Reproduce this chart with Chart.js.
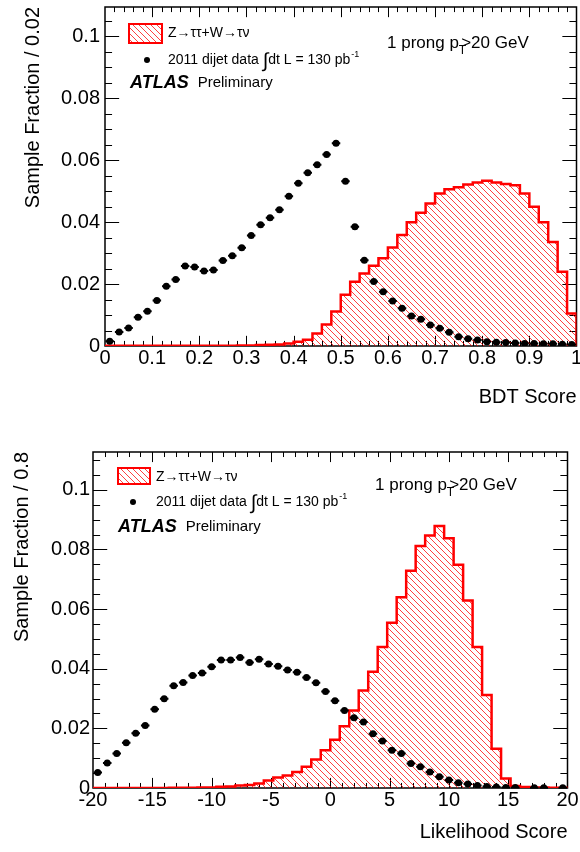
<!DOCTYPE html>
<html>
<head>
<meta charset="utf-8">
<script src="https://cdn.jsdelivr.net/npm/chart.js@4.4.1/dist/chart.umd.min.js"></script>
<style>
  html, body { margin: 0; padding: 0; background: #fff; overflow: hidden; }
  #wrap { position: relative; width: 580px; height: 852px; }
  canvas { position: absolute; left: 0; }
</style>
</head>
<body>
<div id="wrap">
  <canvas id="bdt" width="580" height="426" style="top:0"></canvas>
  <canvas id="llh" width="580" height="426" style="top:426px"></canvas>
</div>
<script>
// BDT score: 50 bins of 0.02 between 0 and 1
var bdtLo = 0, bdtBin = 0.02;
var bdtSignal = [
  0.0001, 0.0001, 0.0001, 0.0001, 0.0001, 0.0001, 0.0001, 0.0001, 0.0001, 0.0001,
  0.0001, 0.0001, 0.0001, 0.0001, 0.0002, 0.0002, 0.0003, 0.0004, 0.0005, 0.0008,
  0.0014, 0.0020, 0.0040, 0.0069, 0.0111, 0.0165, 0.0207, 0.0234, 0.0259, 0.0283,
  0.0318, 0.0358, 0.0399, 0.0430, 0.0460, 0.0492, 0.0506, 0.0512, 0.0521, 0.0528,
  0.0533, 0.0528, 0.0523, 0.0519, 0.0492, 0.0449, 0.0399, 0.0336, 0.0240, 0.0105
];
var bdtData = [
  0.0015, 0.0045, 0.0058, 0.0093, 0.0112, 0.0147, 0.0193, 0.0215, 0.0258, 0.0255,
  0.0242, 0.0245, 0.0276, 0.0291, 0.0317, 0.0357, 0.0391, 0.0414, 0.0440, 0.0483,
  0.0525, 0.0559, 0.0585, 0.0618, 0.0654, 0.0532, 0.0385, 0.0277, 0.0208, 0.0175,
  0.0145, 0.0122, 0.0097, 0.0086, 0.0068, 0.0057, 0.0044, 0.0030, 0.0023, 0.0019,
  0.0014, 0.0012, 0.0011, 0.0010, 0.0008, 0.0008, 0.0007, 0.0007, 0.0006, 0.0005
];

// Likelihood score: 50 bins of 0.8 between -20 and 20
var llhLo = -20, llhBin = 0.8;
var llhSignal = [
  0.0000, 0.0000, 0.0000, 0.0000, 0.0000, 0.0000, 0.0000, 0.0000, 0.0001, 0.0001,
  0.0001, 0.0002, 0.0002, 0.0004, 0.0005, 0.0008, 0.0010, 0.0015, 0.0025, 0.0035,
  0.0042, 0.0054, 0.0071, 0.0096, 0.0127, 0.0162, 0.0207, 0.0260, 0.0327, 0.0390,
  0.0473, 0.0554, 0.0640, 0.0729, 0.0812, 0.0847, 0.0879, 0.0838, 0.0749, 0.0629,
  0.0473, 0.0312, 0.0132, 0.0032, 0.0007, 0.0003, 0.0002, 0.0002, 0.0001, 0.0001
];
var llhData = [
  0.0052, 0.0084, 0.0116, 0.0152, 0.0184, 0.0210, 0.0264, 0.0299, 0.0343, 0.0354,
  0.0377, 0.0386, 0.0407, 0.0429, 0.0429, 0.0438, 0.0421, 0.0432, 0.0416, 0.0408,
  0.0396, 0.0388, 0.0371, 0.0353, 0.0324, 0.0293, 0.0260, 0.0236, 0.0221, 0.0182,
  0.0158, 0.0127, 0.0116, 0.0082, 0.0071, 0.0054, 0.0038, 0.0027, 0.0018, 0.0013,
  0.0008, 0.0005, 0.0003, 0.0002, 0.0002, null, 0.0001, 0.0001, null, 0.0001
];

var FONT = "'Liberation Sans', Arial, Helvetica, sans-serif";
Chart.defaults.font.family = FONT;
Chart.defaults.color = '#000';

// histogram outline: one point per bin edge, closed down to zero at both ends
function stepPoints(lo, bin, vals) {
  var pts = [{x: lo, y: 0}];
  for (var i = 0; i < vals.length; i++) {
    pts.push({x: lo + i * bin, y: vals[i]});
  }
  pts.push({x: lo + vals.length * bin, y: vals[vals.length - 1]});
  pts.push({x: lo + vals.length * bin, y: 0});
  return pts;
}

function centerPoints(lo, bin, vals) {
  return vals.map(function (v, i) {
    return {x: lo + (i + 0.5) * bin, y: v};
  });
}

function hatch(ctx) {
  var c = document.createElement('canvas');
  c.width = 6; c.height = 6;
  var g = c.getContext('2d');
  g.strokeStyle = 'rgba(255,0,0,0.75)';
  g.lineWidth = 1;
  g.beginPath();
  g.moveTo(0, 0); g.lineTo(6, 6);
  g.moveTo(-1, 5); g.lineTo(1, 7);
  g.moveTo(5, -1); g.lineTo(7, 1);
  g.stroke();
  return ctx.createPattern(c, 'repeat');
}

function fmt(v) {
  return String(parseFloat(Number(v).toFixed(3)));
}

// frame with inward ticks on all four sides
var rootFrame = {
  id: 'rootFrame',
  beforeDatasetsDraw: function (chart, args, o) {
    var a = chart.chartArea, ctx = chart.ctx;
    var xs = chart.scales.x, ys = chart.scales.y;
    var xLen = 0.03 * (a.bottom - a.top), yLen = 0.03 * (a.right - a.left);
    var i, n, v, p, len;
    ctx.save();
    ctx.strokeStyle = '#000';
    ctx.lineWidth = 1;
    ctx.beginPath();
    n = Math.round((xs.max - xs.min) / o.xMinor);
    for (i = 1; i < n; i++) {
      v = xs.min + i * o.xMinor;
      p = Math.round(xs.getPixelForValue(v)) + 0.5;
      len = i % o.xPer === 0 ? xLen : xLen / 2;
      ctx.moveTo(p, a.bottom); ctx.lineTo(p, a.bottom - len);
      ctx.moveTo(p, a.top); ctx.lineTo(p, a.top + len);
    }
    n = Math.floor((ys.max - ys.min) / o.yMinor + 1e-6);
    for (i = 1; i <= n; i++) {
      v = ys.min + i * o.yMinor;
      p = Math.round(ys.getPixelForValue(v)) + 0.5;
      len = i % o.yPer === 0 ? yLen : yLen / 2;
      ctx.moveTo(a.left, p); ctx.lineTo(a.left + len, p);
      ctx.moveTo(a.right, p); ctx.lineTo(a.right - len, p);
    }
    ctx.stroke();
    ctx.lineWidth = 1.5;
    ctx.strokeRect(a.left, a.top, a.right - a.left, a.bottom - a.top);
    ctx.restore();
  }
};

// horizontal bars through the data points
var errorBars = {
  id: 'errorBars',
  afterDatasetsDraw: function (chart) {
    var xs = chart.scales.x, ys = chart.scales.y, ctx = chart.ctx;
    chart.data.datasets.forEach(function (ds) {
      if (!ds.errX) return;
      ctx.save();
      ctx.strokeStyle = '#000';
      ctx.lineWidth = 2;
      ctx.beginPath();
      ds.data.forEach(function (p) {
        if (p.y === null) return;
        var py = ys.getPixelForValue(p.y);
        ctx.moveTo(xs.getPixelForValue(p.x - ds.errX), py);
        ctx.lineTo(xs.getPixelForValue(p.x + ds.errX), py);
      });
      ctx.stroke();
      ctx.restore();
    });
  }
};

function textRun(ctx, x, y, parts) {
  parts.forEach(function (p) {
    ctx.font = p.font;
    ctx.fillText(p.t, x + (p.dx || 0), y + (p.dy || 0));
    x += ctx.measureText(p.t).width + (p.dx || 0) + (p.after || 0);
  });
}

// legend, ATLAS label and selection text
var atlasText = {
  id: 'atlasText',
  afterDraw: function (chart, args, o) {
    var ctx = chart.ctx, b = o.box;
    ctx.save();
    ctx.fillStyle = chart.data.datasets[1].backgroundColor;
    ctx.fillRect(b[0], b[1], b[2], b[3]);
    ctx.strokeStyle = '#ff0000';
    ctx.lineWidth = 2;
    ctx.strokeRect(b[0], b[1], b[2], b[3]);

    ctx.fillStyle = '#000';
    ctx.textBaseline = 'middle';
    ctx.textAlign = 'left';
    textRun(ctx, o.sig[0], o.sig[1], [
      {t: 'Z\u2192\u03c4\u03c4+W\u2192\u03c4\u03bd', font: '14px ' + FONT}
    ]);

    ctx.beginPath();
    ctx.arc(o.dot[0], o.dot[1], 3, 0, Math.PI * 2);
    ctx.fill();
    textRun(ctx, o.dat[0], o.dat[1], [
      {t: '2011 dijet data ', font: '14px ' + FONT},
      {t: '\u222b', font: '20px ' + FONT, dy: 1, after: 0},
      {t: 'dt L = 130 pb', font: '14px ' + FONT},
      {t: '-1', font: '9px ' + FONT, dy: -5, dx: 1}
    ]);

    textRun(ctx, o.atlas[0], o.atlas[1], [
      {t: 'ATLAS', font: 'italic bold 18px ' + FONT, after: 9},
      {t: 'Preliminary', font: '15px ' + FONT}
    ]);

    textRun(ctx, o.cut[0], o.cut[1], [
      {t: '1 prong p', font: '17px ' + FONT},
      {t: 'T', font: '12px ' + FONT, dy: 8, after: -5},
      {t: '>20 GeV', font: '17px ' + FONT}
    ]);
    ctx.restore();
  }
};

function makeChart(id, c) {
  var ctx = document.getElementById(id).getContext('2d');
  return new Chart(ctx, {
    type: 'line',
    data: {
      datasets: [{
        label: 'data',
        data: centerPoints(c.lo, c.bin, c.data),
        showLine: false,
        pointRadius: 3.5,
        pointHoverRadius: 3.5,
        pointBackgroundColor: '#000',
        pointBorderColor: '#000',
        pointBorderWidth: 0,
        borderColor: '#000',
        errX: c.bin * 0.45,
        order: 0
      }, {
        label: 'signal',
        data: stepPoints(c.lo, c.bin, c.signal),
        stepped: true,
        borderColor: '#ff0000',
        borderWidth: 2.5,
        backgroundColor: hatch(ctx),
        fill: 'origin',
        pointRadius: 0,
        pointHoverRadius: 0,
        order: 1
      }]
    },
    options: {
      responsive: false,
      animation: false,
      events: [],
      layout: {padding: c.padding},
      plugins: {
        legend: {display: false},
        tooltip: {enabled: false},
        rootFrame: c.frame,
        atlasText: c.text
      },
      scales: {
        x: {
          type: 'linear',
          min: c.lo,
          max: c.lo + c.bin * c.signal.length,
          afterFit: function (s) { s.height = c.xHeight; s.paddingLeft = 0; s.paddingRight = 0; },
          grid: {display: false, drawTicks: false},
          border: {display: false},
          ticks: {stepSize: c.xStep, padding: 0, font: {size: 20}, maxRotation: 0, autoSkip: false, callback: fmt},
          title: {display: true, text: c.xTitle, align: 'end', font: {size: 20}, padding: {top: 0, bottom: c.xTitlePad}}
        },
        y: {
          type: 'linear',
          min: 0,
          max: c.yMax,
          afterFit: function (s) { s.width = c.yWidth; s.paddingTop = 0; s.paddingBottom = 0; },
          grid: {display: false, drawTicks: false},
          border: {display: false},
          ticks: {stepSize: 0.02, padding: c.yTickPad, font: {size: 20}, includeBounds: false, callback: fmt},
          title: {display: true, text: c.yTitle, align: 'end', font: {size: 20}, padding: {top: c.yTitlePad, bottom: 0}}
        }
      }
    },
    plugins: [rootFrame, errorBars, atlasText]
  });
}

makeChart('bdt', {
  lo: bdtLo, bin: bdtBin, signal: bdtSignal, data: bdtData,
  padding: {left: 0, right: 3, top: 7, bottom: 0},
  xHeight: 80, yWidth: 105, yMax: 0.1094, xStep: 0.1,
  xTitle: 'BDT Score', xTitlePad: 17,
  yTitle: 'Sample Fraction / 0.02', yTitlePad: 21, yTickPad: 5,
  frame: {xMinor: 0.02, xPer: 5, yMinor: 0.005, yPer: 4},
  text: {box: [129, 24, 33, 19], sig: [168, 33], dot: [147, 60], dat: [168, 60],
         atlas: [130, 83], cut: [387, 43]}
});

makeChart('llh', {
  lo: llhLo, bin: llhBin, signal: llhSignal, data: llhData,
  padding: {left: 0, right: 12.5, top: 26, bottom: 0},
  xHeight: 64, yWidth: 93, yMax: 0.1127, xStep: 5,
  xTitle: 'Likelihood Score', xTitlePad: 8,
  yTitle: 'Sample Fraction / 0.8', yTitlePad: 10, yTickPad: 3,
  frame: {xMinor: 1, xPer: 5, yMinor: 0.005, yPer: 4},
  text: {box: [118, 42, 32, 16], sig: [156, 51], dot: [133, 76], dat: [156, 76],
         atlas: [118, 101], cut: [375, 59]}
});
</script>
</body>
</html>
